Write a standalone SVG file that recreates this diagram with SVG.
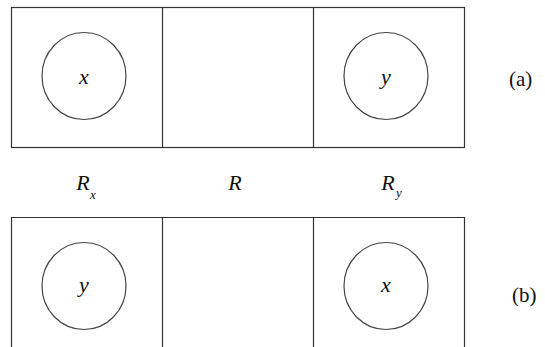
<svg xmlns="http://www.w3.org/2000/svg" width="545" height="347" viewBox="0 0 545 347">
<style>
.box{fill:none;stroke:#333;stroke-width:1.2}
.c{fill:none;stroke:#444;stroke-width:1.2}
text{font-family:"Liberation Serif","Times New Roman",serif;fill:#111}
.it{font-style:italic;font-size:22px;text-anchor:middle}
.sub{font-style:italic;font-size:13px}
.lb{font-size:21px}
</style>
<rect width="545" height="347" fill="#fff"/>
<g id="panel-a">
<rect class="box" x="11.5" y="7.5" width="453" height="140"/>
<line class="box" x1="162.5" y1="7.5" x2="162.5" y2="147.5"/>
<line class="box" x1="313.5" y1="7.5" x2="313.5" y2="147.5"/>
</g>
<g id="a-x"><ellipse class="c" cx="84" cy="76" rx="42" ry="43.5"/><text class="it" x="84" y="84">x</text></g>
<g id="a-y"><ellipse class="c" cx="386" cy="76" rx="42" ry="43.5"/><text class="it" x="386" y="84">y</text></g>
<text class="lb" x="509" y="86">(a)</text>
<g id="labels">
<text class="it" x="83" y="189.5">R</text><text class="sub" x="90" y="199">x</text>
<text class="it" x="235" y="189.5">R</text>
<text class="it" x="388" y="189.5">R</text><text class="sub" x="396" y="197">y</text>
</g>
<g id="panel-b">
<path class="box" d="M11.5 347 V217.5 H464.5 V347"/>
<line class="box" x1="162.5" y1="217.5" x2="162.5" y2="347"/>
<line class="box" x1="313.5" y1="217.5" x2="313.5" y2="347"/>
</g>
<g id="b-y"><ellipse class="c" cx="84" cy="286" rx="42" ry="43.5"/><text class="it" x="84" y="292">y</text></g>
<g id="b-x"><ellipse class="c" cx="386" cy="286" rx="42" ry="43.5"/><text class="it" x="386" y="292">x</text></g>
<text class="lb" x="512" y="302">(b)</text>
</svg>
